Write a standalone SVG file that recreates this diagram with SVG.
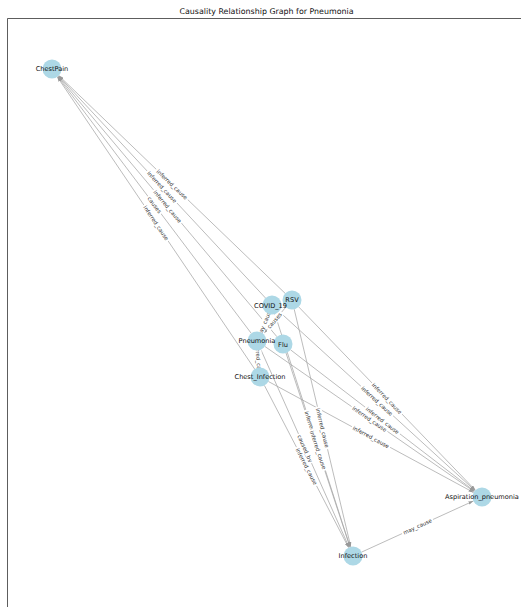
<svg xmlns="http://www.w3.org/2000/svg" width="521" height="607" viewBox="0 0 521 607">
<style>
.frame{stroke:#333;stroke-width:0.8;fill:none}
.title{font-family:"DejaVu Sans",sans-serif;font-size:7.9px;fill:#111;text-anchor:middle}
.e{stroke:#a6a6a6;stroke-width:0.75;fill:none;marker-end:url(#arr)}
.lb rect{fill:#fff;stroke:none}
.lb text{font-family:"DejaVu Sans",sans-serif;font-size:5.5px;fill:#333;text-anchor:middle;dominant-baseline:central}
.n circle{fill:#add8e6}
.n text{font-family:"DejaVu Sans",sans-serif;font-size:6.6px;fill:#111;text-anchor:middle;dominant-baseline:central}
</style>
<defs>
<marker id="arr" markerUnits="userSpaceOnUse" markerWidth="5" markerHeight="3.4" refX="5" refY="1.7" orient="auto">
<path d="M0,0 L5,1.7 L0,3.4 z" fill="#999"/>
</marker>
</defs>
<rect width="521" height="607" fill="#fff"/>
<text class="title" x="266.5" y="14">Causality Relationship Graph for Pneumonia</text>
<path class="frame" d="M7.5,607 L7.5,18.5 L521,18.5"/>
<g id="connectors">
<line class="e" x1="285.2" y1="293.4" x2="58.8" y2="75.6"/>
<line class="e" x1="265.5" y1="298.0" x2="58.5" y2="75.9"/>
<line class="e" x1="276.9" y1="336.7" x2="58.1" y2="76.3"/>
<line class="e" x1="251.3" y1="333.4" x2="57.7" y2="76.6"/>
<line class="e" x1="254.7" y1="369.1" x2="57.3" y2="76.9"/>
<line class="e" x1="298.6" y1="306.8" x2="475.4" y2="490.2"/>
<line class="e" x1="279.0" y1="311.4" x2="475.0" y2="490.6"/>
<line class="e" x1="290.5" y1="349.8" x2="474.5" y2="491.2"/>
<line class="e" x1="264.8" y1="346.4" x2="474.2" y2="491.6"/>
<line class="e" x1="268.4" y1="381.5" x2="473.6" y2="492.5"/>
<line class="e" x1="294.2" y1="309.2" x2="350.8" y2="546.8"/>
<line class="e" x1="274.9" y1="314.0" x2="350.1" y2="547.0"/>
<line class="e" x1="286.0" y1="353.0" x2="350.0" y2="547.0"/>
<line class="e" x1="260.9" y1="349.7" x2="349.1" y2="547.3"/>
<line class="e" x1="264.4" y1="385.4" x2="348.6" y2="547.6"/>
<line class="e" x1="361.6" y1="552.1" x2="473.4" y2="501.0"/>
<line class="e" x1="268.3" y1="313.8" x2="260.7" y2="332.2"/>
<line class="e" x1="285.8" y1="307.2" x2="263.2" y2="333.8"/>
<line class="e" x1="259.2" y1="367.5" x2="257.8" y2="350.5"/>
<g class="lb" transform="translate(172,184.5) rotate(43.9)"><rect x="-21.8" y="-3.6" width="43.6" height="7.2" rx="1.5"/><text>inferred_cause</text></g>
<g class="lb" transform="translate(162,187) rotate(47.0)"><rect x="-21.8" y="-3.6" width="43.6" height="7.2" rx="1.5"/><text>inferred_cause</text></g>
<g class="lb" transform="translate(167.5,206.5) rotate(50.0)"><rect x="-21.8" y="-3.6" width="43.6" height="7.2" rx="1.5"/><text>inferred_cause</text></g>
<g class="lb" transform="translate(154.5,205) rotate(53.0)"><rect x="-11" y="-3.6" width="22" height="7.2" rx="1.5"/><text>causes</text></g>
<g class="lb" transform="translate(156,223) rotate(56.0)"><rect x="-21.8" y="-3.6" width="43.6" height="7.2" rx="1.5"/><text>inferred_cause</text></g>
<g class="lb" transform="translate(387,398.5) rotate(46.0)"><rect x="-21.8" y="-3.6" width="43.6" height="7.2" rx="1.5"/><text>inferred_cause</text></g>
<g class="lb" transform="translate(377,401) rotate(42.4)"><rect x="-21.8" y="-3.6" width="43.6" height="7.2" rx="1.5"/><text>inferred_cause</text></g>
<g class="lb" transform="translate(382.5,420.5) rotate(37.6)"><rect x="-21.8" y="-3.6" width="43.6" height="7.2" rx="1.5"/><text>inferred_cause</text></g>
<g class="lb" transform="translate(369.5,419) rotate(34.7)"><rect x="-21.8" y="-3.6" width="43.6" height="7.2" rx="1.5"/><text>inferred_cause</text></g>
<g class="lb" transform="translate(371,437) rotate(28.4)"><rect x="-21.8" y="-3.6" width="43.6" height="7.2" rx="1.5"/><text>inferred_cause</text></g>
<g class="lb" transform="translate(322.5,428) rotate(76.6)"><rect x="-21.8" y="-3.6" width="43.6" height="7.2" rx="1.5"/><text>inferred_cause</text></g>
<g class="lb" transform="translate(312.5,430.5) rotate(72.1)"><rect x="-21.8" y="-3.6" width="43.6" height="7.2" rx="1.5"/><text>inferred_cause</text></g>
<g class="lb" transform="translate(318,450) rotate(71.7)"><rect x="-21.8" y="-3.6" width="43.6" height="7.2" rx="1.5"/><text>inferred_cause</text></g>
<g class="lb" transform="translate(305,448.5) rotate(65.9)"><rect x="-16" y="-3.6" width="32" height="7.2" rx="1.5"/><text>caused_by</text></g>
<g class="lb" transform="translate(306.5,466.5) rotate(62.6)"><rect x="-21.8" y="-3.6" width="43.6" height="7.2" rx="1.5"/><text>inferred_cause</text></g>
<g class="lb" transform="translate(417.5,526.5) rotate(-24.6)"><rect x="-17" y="-3.6" width="34" height="7.2" rx="1.5"/><text>may_cause</text></g>
<g class="lb" transform="translate(264.5,323) rotate(-67.4)"><rect x="-17" y="-3.6" width="34" height="7.2" rx="1.5"/><text>may_cause</text></g>
<g class="lb" transform="translate(274.5,320.5) rotate(-49.5)"><rect x="-11" y="-3.6" width="22" height="7.2" rx="1.5"/><text>causes</text></g>
<g class="lb" transform="translate(258.5,359) rotate(85.2)"><rect x="-21.8" y="-3.6" width="43.6" height="7.2" rx="1.5"/><text>inferred_cause</text></g>
</g>
<g id="node-ChestPain" class="n"><circle cx="52" cy="69" r="9.5"/><text x="52" y="69">ChestPain</text></g>
<g id="node-RSV" class="n"><circle cx="292" cy="300" r="9.5"/><text x="292" y="300">RSV</text></g>
<g id="node-COVID_19" class="n"><circle cx="272" cy="305" r="9.5"/><text x="270.5" y="305.5">COVID_19</text></g>
<g id="node-Flu" class="n"><circle cx="283" cy="344" r="9.5"/><text x="283" y="344.5">Flu</text></g>
<g id="node-Pneumonia" class="n"><circle cx="257" cy="341" r="9.5"/><text x="257" y="340.5">Pneumonia</text></g>
<g id="node-Chest_Infection" class="n"><circle cx="260" cy="377" r="9.5"/><text x="260" y="376.5">Chest_Infection</text></g>
<g id="node-Infection" class="n"><circle cx="353" cy="556" r="9.5"/><text x="353" y="556">Infection</text></g>
<g id="node-Aspiration_pneumonia" class="n"><circle cx="482" cy="497" r="9.5"/><text x="482" y="497">Aspiration_pneumonia</text></g>
</svg>
